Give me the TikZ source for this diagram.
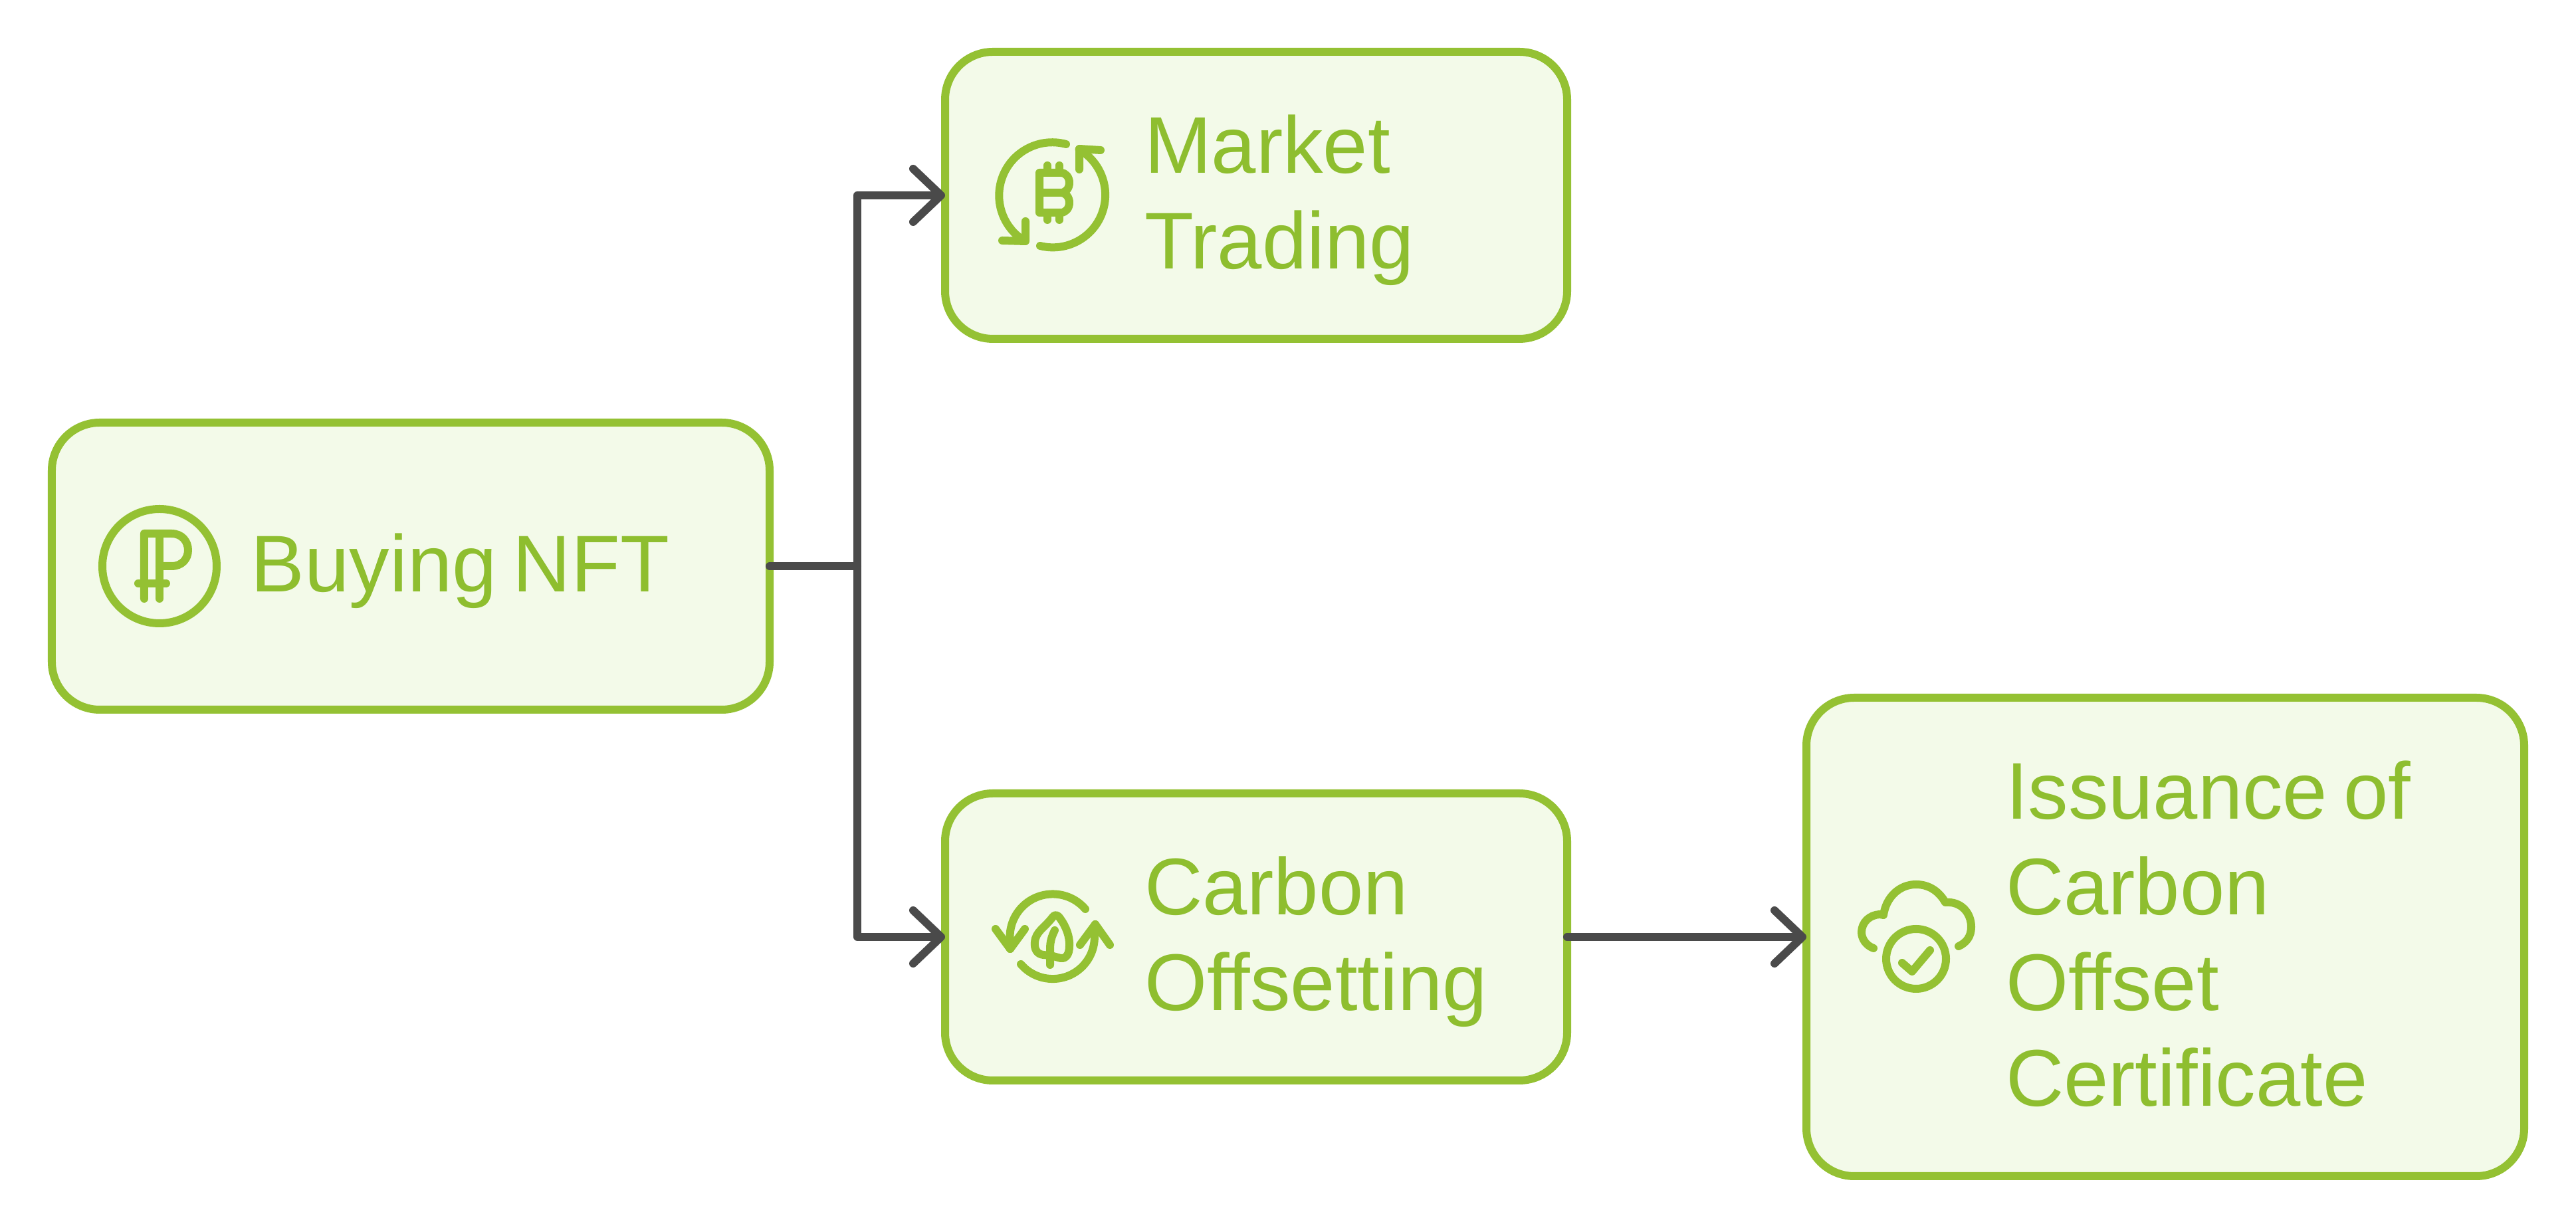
\documentclass[tikz,border=0pt]{standalone}
\usepackage{fontspec}
\setmainfont{Liberation Sans}
\usetikzlibrary{arrows.meta,positioning}
\definecolor{leaf}{HTML}{94C133}
\definecolor{leaftxt}{HTML}{8EBE2F}
\definecolor{mint}{HTML}{F3FAE9}
\definecolor{slate}{HTML}{4A4A4A}
\newcommand{\nstrut}{\rule[-8.25pt]{0pt}{36pt}}
\tikzset{
  box/.style={rectangle,rounded corners=18pt,draw=leaf,fill=mint,line width=3pt,
              text=leaftxt,align=left,font=\fontsize{30.25}{36}\selectfont,
              inner sep=0pt,outer sep=0pt,minimum height=108pt,text width=234pt,
              execute at begin node={\leftskip=75pt\relax\spaceskip=.2em\relax\nstrut},execute at end node={\nstrut}},
  wide/.style={box,text width=270pt},
  tall/.style={wide,minimum height=180pt},
  fl/.style={-{Straight Barb[round,length=10.5pt,width=20pt]},line width=3pt,draw=slate,line cap=round,line join=round},
  stub/.style={line width=3pt,draw=slate,line cap=round},
  ico/.style={x=.25pt,y=-.25pt,draw=leaf,line width=3pt,line cap=round,line join=round},
  rubleico/.pic={
    \draw[ico] (0,0) circle[radius=86];
    \draw[ico] (-23,49) -- (-23,-49) -- (18,-49) .. controls (34,-49) and (43,-37) .. (43,-24)
      .. controls (43,-11) and (34,0) .. (18,0) -- (0,0);
    \draw[ico] (0,49) -- (0,-49);
    \draw[ico] (-32,26) -- (10,26);
  },
  coinico/.pic={
    \draw[ico] (20,-77) arc[start angle=-75,end angle=-239,radius=80];
    \draw[ico] (-41,39) -- (-41,69) -- (-76,68);
    \draw[ico] (-19,76) arc[start angle=104,end angle=-60,radius=79];
    \draw[ico] (40,-39) -- (40,-70) -- (72,-68);
    \draw[ico] (12,-4) -- (-20,-4) -- (-20,-34) -- (12,-34) .. controls (20,-34) and (25,-27) .. (25,-19)
      .. controls (25,-11) and (20,-4) .. (12,-4) .. controls (20,-4) and (25,3) .. (25,11)
      .. controls (25,19) and (20,26) .. (12,26) -- (-20,26) -- (-20,-4);
    \draw[ico] (-8,-34) -- (-8,-45); \draw[ico] (10,-34) -- (10,-45);
    \draw[ico] (-8,26) -- (-8,37); \draw[ico] (10,26) -- (10,37);
  },
  sproutico/.pic={
    \draw[ico] (49,-42) arc[start angle=-40.6,end angle=-180,radius=64.5] -- (-64,18);
    \draw[ico] (-86,-12) -- (-64,18) -- (-42,-12);
    \draw[ico] (-48,41) arc[start angle=139.5,end angle=0,radius=63] -- (64,-19);
    \draw[ico] (41,12) -- (64,-19) -- (86,12);
    \draw[ico] (-4,28) -- (-14,27) .. controls (-24,26) and (-28,18) .. (-27,8)
      .. controls (-26,-8) and (-12,-14) .. (0,-30) .. controls (3,-34) and (7,-34) .. (11,-28)
      .. controls (20,-16) and (26,0) .. (25,14) .. controls (25,26) and (20,33) .. (12,32) -- (-3,28);
    \draw[ico] (3,-10) .. controls (-2,0) and (-4,8) .. (-4,18) -- (-4,42);
  },
  cloudico/.pic={
    \draw[ico] (-64,17) .. controls (-75,13) and (-82,3) .. (-82,-7) .. controls (-82,-22) and (-70,-33) .. (-55,-34)
      -- (-49,-33) .. controls (-45,-60) and (-25,-79) .. (0,-79) .. controls (20,-79) and (35,-68) .. (44,-52)
      .. controls (68,-54) and (83,-36) .. (83,-15) .. controls (83,0) and (75,9) .. (64,14);
    \draw[ico] (0,33) circle[radius=45];
    \draw[ico] (-21,39) -- (-6,52) -- (21,20);
  },
}
\begin{document}
\begin{tikzpicture}
\useasboundingbox (-154.5pt,-249pt) rectangle (814.5pt,213pt);
\node[wide] (buy) at (0,0) {Buying NFT};
\node[box, right=66pt of buy, yshift=139.5pt] (mkt) {Market\\Trading};
\node[box, right=66pt of buy, yshift=-139.5pt] (crb) {Carbon\\Offsetting};
\node[tall, right=90pt of crb] (cert) {Issuance of\\Carbon\\Offset\\Certificate};
\coordinate[right=33pt of buy] (jn);
\pic at ([xshift=40.5pt]buy.west) {rubleico};
\pic at ([xshift=40.5pt]mkt.west) {coinico};
\pic at ([xshift=40.5pt]crb.west) {sproutico};
\pic at ([xshift=41.25pt]cert.west) {cloudico};
\draw[stub](buy)--(jn);
\draw[fl](jn)|-(mkt);
\draw[fl](jn)|-(crb);
\draw[fl](crb)--(cert);
\end{tikzpicture}
\end{document}
